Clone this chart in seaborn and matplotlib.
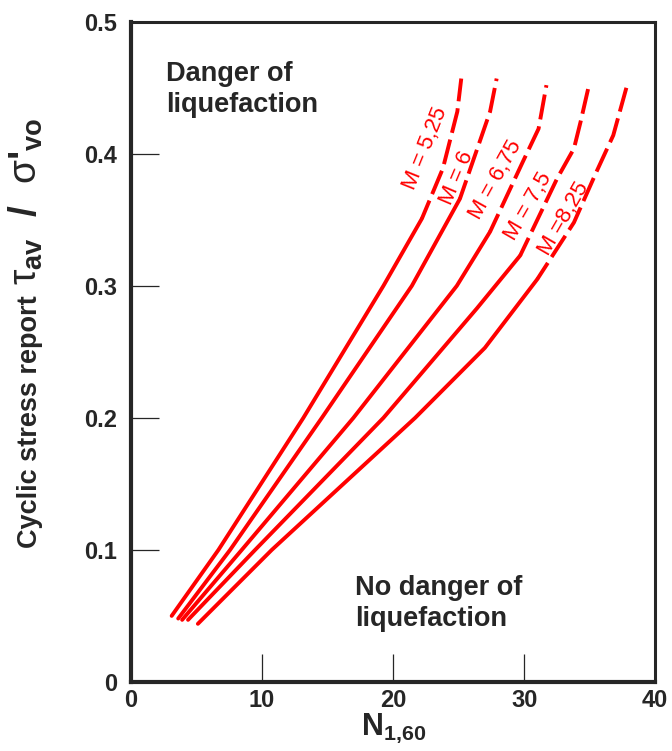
import matplotlib
matplotlib.use("Agg")
import matplotlib.pyplot as plt
import seaborn as sns
import pandas as pd

sns.set_style("ticks")
plt.rcParams["font.family"] = ["Liberation Sans", "DejaVu Sans"]
plt.rcParams["mathtext.fontset"] = "custom"
plt.rcParams["mathtext.rm"] = "Liberation Sans"
plt.rcParams["mathtext.bf"] = "Liberation Sans:bold"
plt.rcParams["mathtext.it"] = "Liberation Sans:italic"

# curves: (N1,60, tau/sigma) for each magnitude
magnitudes = ["5,25", "6", "6,75", "7,5", "8,25"]
curve_x = [
    [3.1, 6.67, 13.15, 19.26, 22.2, 23.8, 24.9, 25.2],
    [3.6, 7.56, 14.56, 21.43, 25.1, 26.6, 27.4, 27.9],
    [3.9, 8.45, 16.97, 24.86, 27.4, 29.9, 31.1, 31.7],
    [4.35, 9.47, 19.26, 26.4, 29.7, 32.5, 33.8, 34.3, 34.9],
    [5.1, 10.74, 21.68, 27.0, 31.0, 33.8, 35.5, 36.8, 37.8],
]
curve_y = [
    [0.050, 0.100, 0.200, 0.300, 0.351, 0.389, 0.432, 0.457],
    [0.048, 0.100, 0.200, 0.300, 0.366, 0.409, 0.432, 0.457],
    [0.047, 0.100, 0.200, 0.300, 0.341, 0.394, 0.419, 0.452],
    [0.047, 0.100, 0.200, 0.283, 0.323, 0.381, 0.404, 0.424, 0.450],
    [0.044, 0.100, 0.200, 0.253, 0.305, 0.348, 0.386, 0.414, 0.450],
]
# index where the solid line turns into a dashed one
solid_end = [4, 4, 4, 4, 4]

# label positions and angles
label_x = [22.5, 24.9, 27.8, 30.3, 33.0]
label_y = [0.404, 0.382, 0.380, 0.360, 0.351]
label_rot = [68, 67, 61, 60, 60]

fig = plt.figure(figsize=(6.72, 7.51), dpi=100)
ax = fig.add_axes([0.195, 0.092, 0.78, 0.879])

red = "#ff0000"
for i, m in enumerate(magnitudes):
    df = pd.DataFrame({"N": curve_x[i], "csr": curve_y[i]})
    k = solid_end[i]
    sns.lineplot(data=df.iloc[: k + 1], x="N", y="csr", sort=False,
                 estimator=None, color=red, lw=2.8, ax=ax)
    sns.lineplot(data=df.iloc[k:], x="N", y="csr", sort=False,
                 estimator=None, color=red, lw=2.8, ax=ax,
                 linestyle=(1.5, (6.5, 1.8)))
    txt = "M = " + m if i < 4 else "M =" + m
    ax.text(label_x[i], label_y[i], txt, color=red, fontsize=16,
            rotation=label_rot[i], ha="center", va="center",
            rotation_mode="anchor")

ax.set_xlim(0, 40)
ax.set_ylim(0, 0.5)
ax.set_xticks([0, 10, 20, 30, 40])
ax.set_yticks([0, 0.1, 0.2, 0.3, 0.4, 0.5])
ax.set_xticklabels(["0", "10", "20", "30", "40"])
ax.set_yticklabels(["0", "0.1", "0.2", "0.3", "0.4", "0.5"])
ax.tick_params(direction="in", length=20, width=0.9, labelsize=17)
ax.tick_params(axis="x", pad=5)
ax.tick_params(axis="y", pad=10)
for lab in ax.get_xticklabels() + ax.get_yticklabels():
    lab.set_fontweight("bold")

for side in ["left", "bottom"]:
    ax.spines[side].set_linewidth(3.0)
for side in ["top", "right"]:
    ax.spines[side].set_linewidth(2.2)
    ax.spines[side].set_visible(True)

ax.set_xlabel(r"N$_\mathbf{1{,}60}$", fontsize=22, fontweight="bold", labelpad=0)
ax.set_ylabel("")

# y label in two pieces: words, then the larger symbol part
t1 = fig.text(0.055, 1 - 548 / 751, "Cyclic stress report", fontsize=19.5,
              fontweight="bold", rotation=90, rotation_mode="anchor",
              ha="left", va="baseline")
fig.canvas.draw()
bb = t1.get_window_extent()
fig.text(0.055, (bb.y1 + 10) / fig.bbox.height,
         r"$\mathrm{τ}_\mathbf{av}$  /  $\mathrm{σ}$'$_\mathbf{vo}$",
         fontsize=28, fontweight="bold", rotation=90, rotation_mode="anchor",
         ha="left", va="baseline")

ax.text(2.7, 0.470, "Danger of\nliquefaction", fontsize=19.5, fontweight="bold",
        ha="left", va="top", linespacing=1.25)
ax.text(17.1, 0.081, "No danger of\nliquefaction", fontsize=19.5, fontweight="bold",
        ha="left", va="top", linespacing=1.25)

fig.savefig("out.png", dpi=100)
